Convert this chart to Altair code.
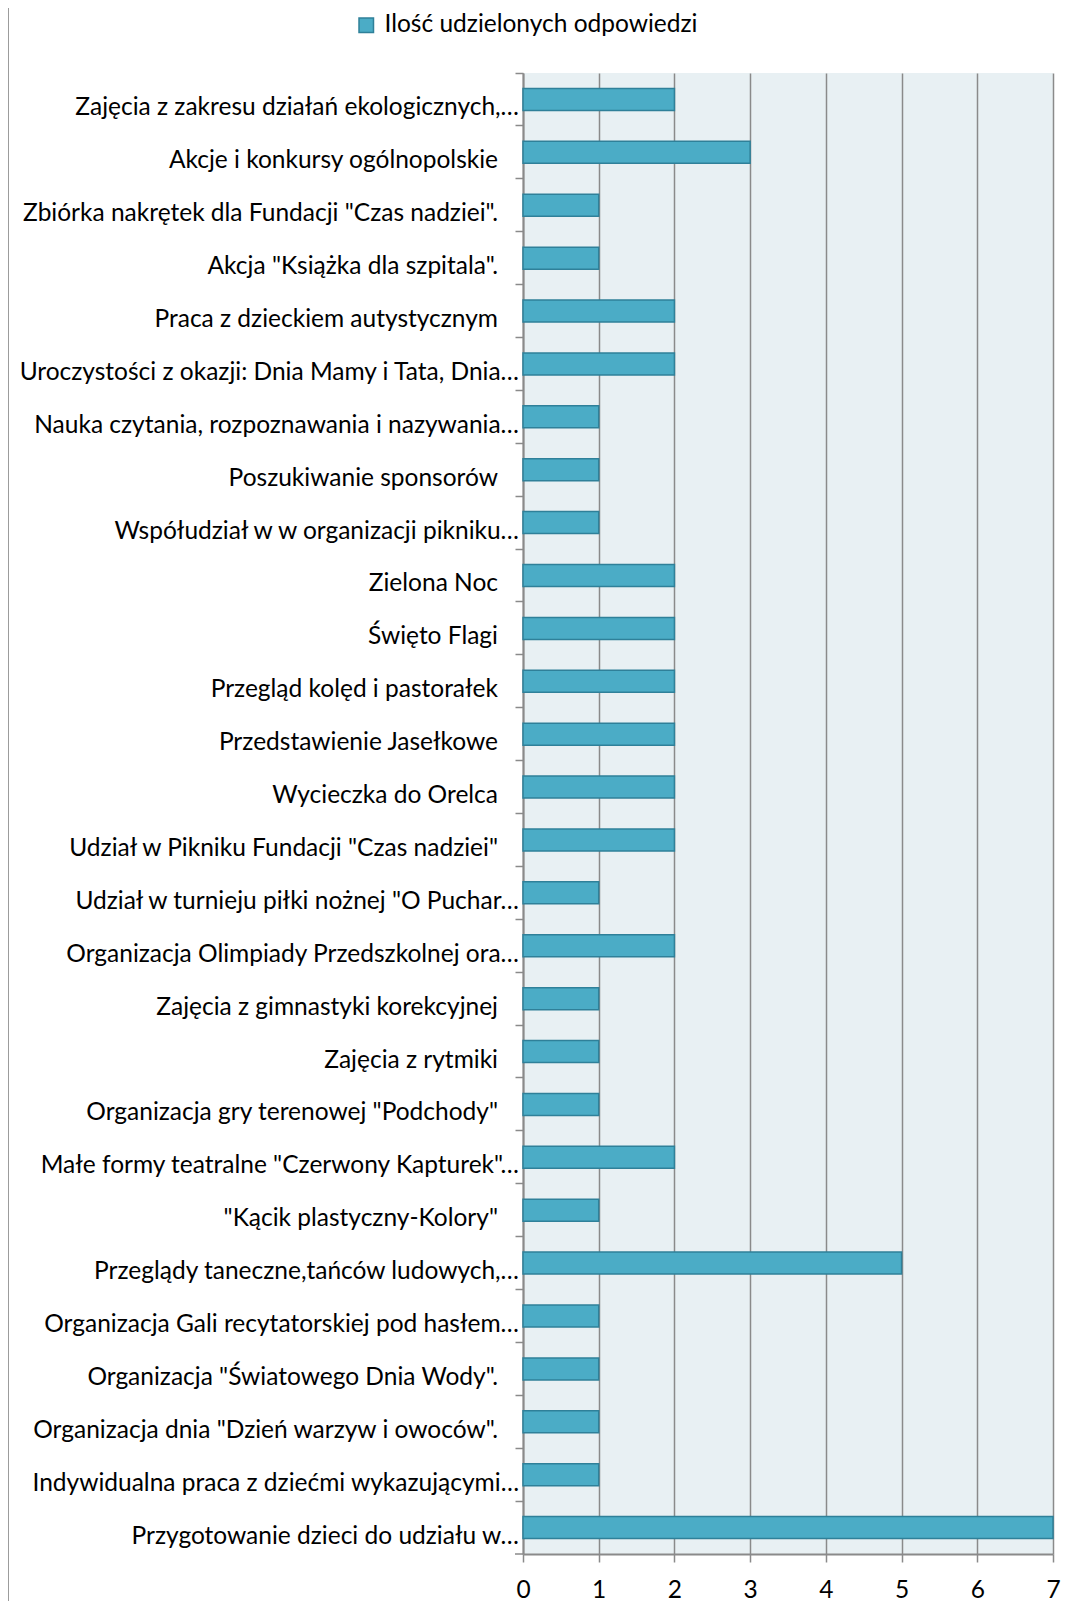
import altair as alt
import pandas as pd

categories = [
    'Zajęcia z zakresu działań ekologicznych,…',
    'Akcje i konkursy ogólnopolskie',
    'Zbiórka nakrętek dla Fundacji "Czas nadziei".',
    'Akcja "Książka dla szpitala".',
    'Praca z dzieckiem autystycznym',
    'Uroczystości z okazji: Dnia Mamy i Tata, Dnia…',
    'Nauka czytania, rozpoznawania i nazywania…',
    'Poszukiwanie sponsorów',
    'Współudział w w organizacji pikniku…',
    'Zielona Noc',
    'Święto Flagi',
    'Przegląd kolęd i pastorałek',
    'Przedstawienie Jasełkowe',
    'Wycieczka do Orelca',
    'Udział w Pikniku Fundacji "Czas nadziei"',
    'Udział w turnieju piłki nożnej "O Puchar…',
    'Organizacja Olimpiady Przedszkolnej ora…',
    'Zajęcia z gimnastyki korekcyjnej',
    'Zajęcia z rytmiki',
    'Organizacja gry terenowej "Podchody"',
    'Małe formy teatralne "Czerwony Kapturek"…',
    '"Kącik plastyczny-Kolory"',
    'Przeglądy taneczne,tańców ludowych,…',
    'Organizacja Gali recytatorskiej pod hasłem…',
    'Organizacja "Światowego Dnia Wody".',
    'Organizacja dnia "Dzień warzyw i owoców".',
    'Indywidualna praca z dziećmi wykazującymi…',
    'Przygotowanie dzieci do udziału w…',
]
values = [2, 3, 1, 1, 2, 2, 1, 1, 1, 2, 2, 2, 2, 2, 2, 1, 2, 1, 1, 1, 2, 1, 5, 1, 1, 1, 1, 7]
series_name = 'Ilość udzielonych odpowiedzi'
x_ticks = [0, 1, 2, 3, 4, 5, 6, 7]

df = pd.DataFrame({'cat': categories, 'val': values, 'series': series_name})

W, H = 530, 1481
FONT = 'Lato'
FS = 24.5
GRID = '#8A8A8A'

y_enc = alt.Y('cat:N', sort=categories,
              scale=alt.Scale(paddingInner=0, paddingOuter=0),
              axis=alt.Axis(title=None, labels=False, bandPosition=0,
                            domainColor=GRID, domainWidth=2,
                            tickColor=GRID, tickWidth=1.5, tickSize=8, grid=False))

x_enc = alt.X('val:Q', scale=alt.Scale(domain=[0, 7], nice=False),
              axis=alt.Axis(title=None, values=x_ticks, format='d',
                            grid=True, gridColor=GRID, gridWidth=1.5,
                            domainColor=GRID, domainWidth=2,
                            tickColor=GRID, tickWidth=1.5, tickSize=8,
                            labelFont=FONT, labelFontSize=FS, labelColor='#000000',
                            labelBaseline='alphabetic', labelPadding=35,
                            labelFlush=False, labelOverlap=False))

base = alt.Chart(df)

bars = base.mark_bar(size=22, stroke='#2F8099', strokeWidth=1.5).encode(
    x=x_enc,
    y=y_enc,
    color=alt.Color('series:N',
                    scale=alt.Scale(domain=[series_name], range=['#4BACC6']),
                    legend=alt.Legend(title=None, orient='none', legendX=-169, legendY=-60,
                                      symbolType='square', symbolSize=210,
                                      symbolStrokeColor='#2F8099', symbolStrokeWidth=1.5,
                                      labelFont=FONT, labelFontSize=FS, labelColor='#000000',
                                      labelOffset=6, labelLimit=600)),
)

labels_full = base.transform_filter("indexof(datum.cat, '…') < 0").mark_text(
    align='right', baseline='alphabetic', dy=16, font=FONT, fontSize=FS, color='#000000'
).encode(y=alt.Y('cat:N', sort=categories), x=alt.value(-25), text='cat:N')

labels_trunc = base.transform_filter("indexof(datum.cat, '…') >= 0").mark_text(
    align='right', baseline='alphabetic', dy=16, font=FONT, fontSize=FS, color='#000000'
).encode(y=alt.Y('cat:N', sort=categories), x=alt.value(-4), text='cat:N')

edge = alt.Chart(alt.Data(values=[{}]))
bottom_tick = edge.mark_rule(color=GRID, strokeWidth=1.5).encode(
    x=alt.value(-8), x2=alt.value(0), y=alt.value(H))
border = edge.mark_rule(color='#9C9C9C', strokeWidth=2).encode(
    x=alt.value(-515), y=alt.value(-65), y2=alt.value(H + 47))

chart = alt.layer(bars, labels_full, labels_trunc, bottom_tick, border).properties(
    width=W, height=H,
    padding={'left': 515, 'top': 65, 'right': 8, 'bottom': 47},
    autosize=alt.AutoSizeParams(type='none'),
    background='#FFFFFF',
).configure_view(fill='#E8F0F3', strokeWidth=0)

chart.save('out.html', embed_options={'renderer': 'svg', 'actions': False})
